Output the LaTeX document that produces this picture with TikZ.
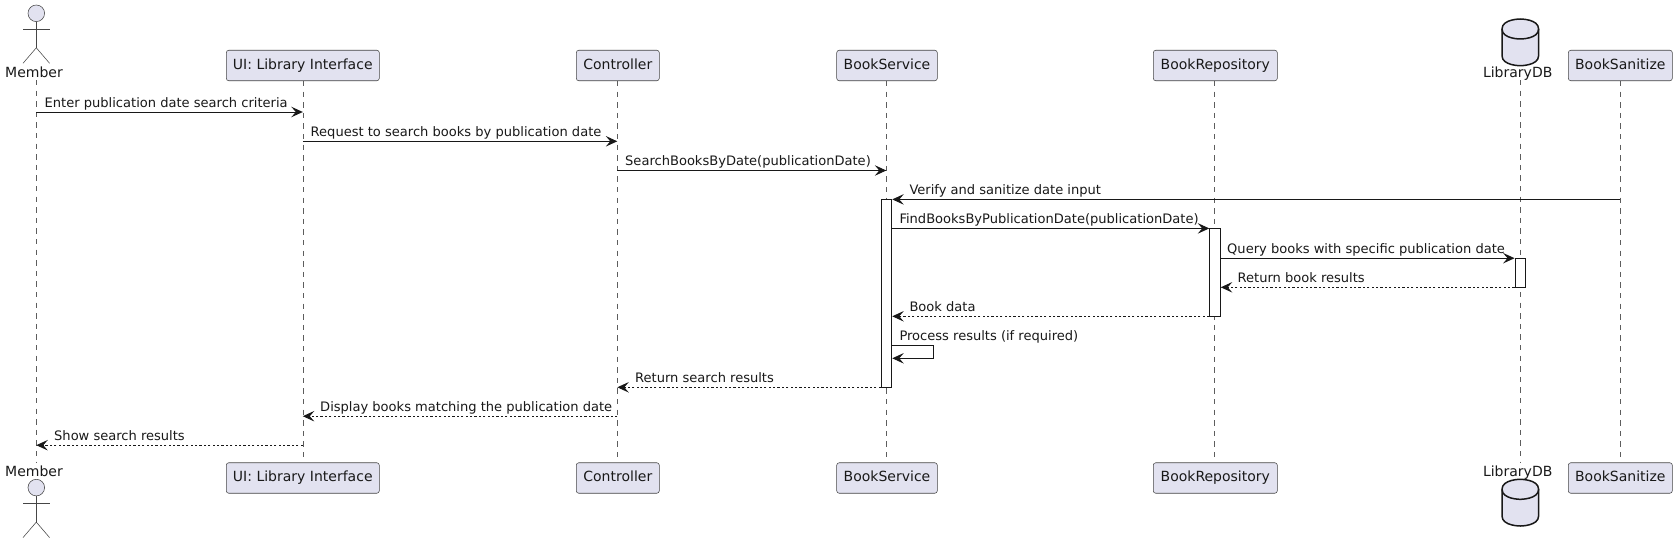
\documentclass[tikz,border=0pt]{standalone}
\usepackage{fontspec}
\setmainfont{DejaVu Sans}
\usetikzlibrary{arrows.meta}
\definecolor{pfill}{HTML}{E2E2F0}
\definecolor{pline}{HTML}{181818}
\tikzset{
  x=1pt,y=-1pt,
  every node/.style={font=\fontsize{14}{16}\selectfont,text=black!90,inner sep=0pt},
  pbox/.style={draw=pline!80,line width=0.55pt,fill=pfill,rounded corners=2.5pt,minimum height=30.5pt,text height=10.5pt,text depth=3pt},
  life/.style={draw=pline!70,line width=0.55pt,dash pattern=on 5.3pt off 5.3pt},
  stick/.style={draw=pline!80,line width=0.55pt},
  dbshape/.style={draw=pline,line width=1.5pt,fill=pfill},
  bar/.style={draw=pline,line width=1pt,fill=white,minimum width=10.5pt},
  msgtip/.style={-{Stealth[length=11.5pt,width=10.5pt,inset=4.5pt,fill=pline]}},
  msg/.style={draw=pline,line width=1pt,msgtip},
  ret/.style={draw=pline,line width=1pt,dash pattern=on 2.2pt off 2.2pt,msgtip},
  lbl/.style={anchor=base west,font=\fontsize{13.05}{16}\selectfont},
}
\newcommand{\actorfig}[2]{% x, head top y
  \draw[stick,fill=pfill] (#1,#2+8.3) circle[radius=8.3];
  \draw[stick] (#1,#2+16.6) -- (#1,#2+42.8);
  \draw[stick] (#1-13.3,#2+24) -- (#1+13.3,#2+24);
  \draw[stick] (#1-13.3,#2+58.3) -- (#1,#2+42.8) -- (#1+13.3,#2+58.3);
}
\newcommand{\dbfig}[2]{% x, top y
  \draw[dbshape] (#1-18.3,#2+10) .. controls (#1-18.3,#2) and (#1,#2) .. (#1,#2)
    .. controls (#1,#2) and (#1+18.3,#2) .. (#1+18.3,#2+10)
    -- (#1+18.3,#2+36.7) .. controls (#1+18.3,#2+46.7) and (#1,#2+46.7) .. (#1,#2+46.7)
    .. controls (#1,#2+46.7) and (#1-18.3,#2+46.7) .. (#1-18.3,#2+36.7) -- cycle;
  \draw[draw=pline,line width=1.5pt] (#1-18.3,#2+10) .. controls (#1-18.3,#2+20) and (#1,#2+20) .. (#1,#2+20)
    .. controls (#1,#2+20) and (#1+18.3,#2+20) .. (#1+18.3,#2+10);
}
\begin{document}
\begin{tikzpicture}
\useasboundingbox[fill=white] (0,0) rectangle (1677,543);
% lifeline anchors
\coordinate (mT) at (36.3,80);   \coordinate (mB) at (36.3,463);
\coordinate (dT) at (1520.3,80); \coordinate (dB) at (1520.3,463);
\coordinate (ctX) at (617.3,0);
\coordinate (bsX) at (886.3,0);
\coordinate (brX) at (1214.3,0);
% boxes
\node[pbox,minimum width=153pt] (uiT) at (302.8,65.5) {UI: Library Interface};
\node[pbox,minimum width=83pt] (ctT) at (617.8,65.5) {Controller};
\node[pbox,minimum width=100.6pt] (bsT) at (887,65.5) {BookService};
\node[pbox,minimum width=124pt] (brT) at (1215.3,65.5) {BookRepository};
\node[pbox,minimum width=104pt] (snT) at (1620.3,65.5) {BookSanitize};
\node[pbox,minimum width=153pt] (uiB) at (302.8,478) {UI: Library Interface};
\node[pbox,minimum width=83pt] (ctB) at (617.8,478) {Controller};
\node[pbox,minimum width=100.6pt] (bsB) at (887,478) {BookService};
\node[pbox,minimum width=124pt] (brB) at (1215.3,478) {BookRepository};
\node[pbox,minimum width=104pt] (snB) at (1620.3,478) {BookSanitize};
% lifelines
\draw[life] (mT) -- (mB);
\draw[life] (uiT) -- (uiB);
\draw[life] (ctX|-ctT.south) -- (ctX|-ctB.north);
\draw[life] (bsX|-bsT.south) -- (bsX|-bsB.north);
\draw[life] (brX|-brT.south) -- (brX|-brB.north);
\draw[life] (dT) -- (dB);
\draw[life] (snT) -- (snB);
% actors and databases
\actorfig{36.3}{5}
\actorfig{36.3}{479.3}
\node[anchor=base] (mLT) at (34,77.5) {Member};
\node[anchor=base] (mLB) at (34,476) {Member};
\dbfig{1520.3}{19}
\dbfig{1520.3}{479.3}
\node[anchor=base] (dLT) at (1517.7,77.5) {LibraryDB};
\node[anchor=base] (dLB) at (1517.7,476) {LibraryDB};
% activations
\node[bar,minimum height=188pt] (aS) at (886.5,293.3) {};
\node[bar,minimum height=88pt] (aR) at (1215,272.3) {};
\node[bar,minimum height=29pt] (aD) at (1520.3,272.6) {};
% message levels
\coordinate (y1) at (0,112);
\coordinate (y2) at (0,141.3);
\coordinate (y3) at (0,170.5);
\coordinate (y4) at (0,199.4);
\coordinate (y5) at (0,228.4);
\coordinate (y6) at (0,258.2);
\coordinate (y7) at (0,287.3);
\coordinate (y8) at (0,316.3);
\coordinate (y9) at (0,345.3);
\coordinate (y9b) at (0,358.3);
\coordinate (y10) at (0,387.3);
\coordinate (y11) at (0,416.2);
\coordinate (y12) at (0,445.2);
\coordinate (loopx) at (933.5,0);
% messages
\draw[msg] (mT|-y1) -- (uiT|-y1);
\draw[msg] (uiT|-y2) -- (ctX|-y2);
\draw[msg] (ctX|-y3) -- (bsX|-y3);
\draw[msg] (snT|-y4) -- (aS.east|-y4);
\draw[msg] (aS.east|-y5) -- (aR.west|-y5);
\draw[msg] (aR.east|-y6) -- (aD.west|-y6);
\draw[ret] (aD.west|-y7) -- (aR.east|-y7);
\draw[ret] (aR.west|-y8) -- (aS.east|-y8);
\draw[msg] (aS.east|-y9) -- (loopx|-y9) -- (loopx|-y9b) -- (aS.east|-y9b);
\draw[ret] (aS.west|-y10) -- (ctX|-y10);
\draw[ret] (ctX|-y11) -- (uiT|-y11);
\draw[ret] (uiT|-y12) -- (mT|-y12);
% labels
\node[lbl] (l1) at (44.5,107) {Enter publication date search criteria};
\node[lbl] (l2) at (310.5,136.3) {Request to search books by publication date};
\node[lbl] (l3) at (625,165.5) {SearchBooksByDate(publicationDate)};
\node[lbl] (l4) at (909.3,194.4) {Verify and sanitize date input};
\node[lbl] (l5) at (899.3,223.4) {FindBooksByPublicationDate(publicationDate)};
\node[lbl] (l6) at (1227,253.2) {Query books with specific publication date};
\node[lbl] (l7) at (1237.4,282.3) {Return book results};
\node[lbl] (l8) at (909.3,311.3) {Book data};
\node[lbl] (l9) at (899.3,340.3) {Process results (if required)};
\node[lbl] (l10) at (635,382.3) {Return search results};
\node[lbl] (l11) at (320,411.2) {Display books matching the publication date};
\node[lbl] (l12) at (54,440.2) {Show search results};
\end{tikzpicture}
\end{document}
